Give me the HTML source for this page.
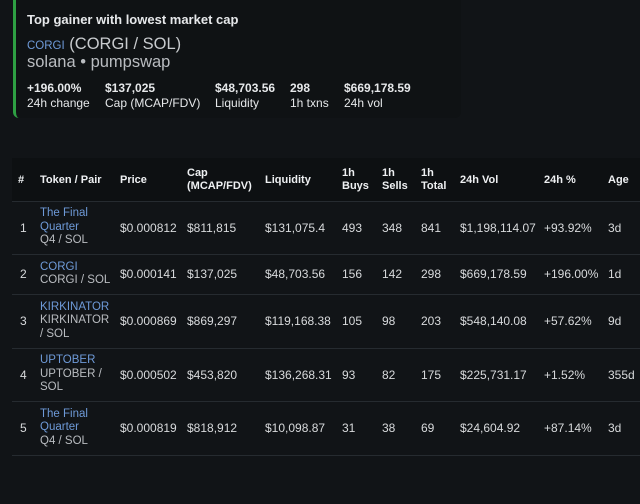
<!DOCTYPE html>
<html><head><meta charset="utf-8"><style>
body{margin:0;width:640px;height:504px;background:#111417;font-family:"Liberation Sans",sans-serif;color:#e6e8ea;position:relative;overflow:hidden}
.a{position:absolute;white-space:nowrap}
.card{position:absolute;left:13px;top:-6px;width:445px;height:124px;background:#0f1214;border-left:3px solid #2ea043;border-radius:6px}
.hdr{position:absolute;left:12px;top:158px;width:628px;height:43px;background:#0d1012}
.line{position:absolute;left:12px;width:628px;height:1px;background:#262b30}
.th{font-weight:bold;font-size:11px;color:#eef0f2;line-height:13px}
.td{font-size:12px;color:#d8dadc}
.lnk{color:#6e9ad8}
.sub{color:#b9bcc0}
.st{font-size:12px}
</style></head><body>
<div class="card"></div>
<div class="a" style="left:27px;top:12px;font-size:13px;font-weight:bold">Top gainer with lowest market cap</div>
<div class="a" style="left:27px;top:35px;font-size:16.5px;color:#c8cbce"><span class="lnk" style="font-size:11.5px">CORGI</span> (CORGI / SOL)</div>
<div class="a" style="left:27px;top:53px;font-size:16.5px;color:#b9bcc0">solana • pumpswap</div>
<div>
<div class="a st" style="left:27px;top:81px;font-weight:bold">+196.00%</div><div class="a st" style="left:27px;top:96px">24h change</div>
<div class="a st" style="left:105px;top:81px;font-weight:bold">$137,025</div><div class="a st" style="left:105px;top:96px">Cap (MCAP/FDV)</div>
<div class="a st" style="left:215px;top:81px;font-weight:bold">$48,703.56</div><div class="a st" style="left:215px;top:96px">Liquidity</div>
<div class="a st" style="left:290px;top:81px;font-weight:bold">298</div><div class="a st" style="left:290px;top:96px">1h txns</div>
<div class="a st" style="left:344px;top:81px;font-weight:bold">$669,178.59</div><div class="a st" style="left:344px;top:96px">24h vol</div>
</div>
<div class="hdr"></div>
<div id="t"></div>
<script>
const cols=[18,40,120,187,265,342,382,421,460,544,608];
const heads=[["#"],["Token / Pair"],["Price"],["Cap","(MCAP/FDV)"],["Liquidity"],["1h","Buys"],["1h","Sells"],["1h","Total"],["24h Vol"],["24h %"],["Age"]];
const names=[["The Final","Quarter"],["CORGI"],["KIRKINATOR"],["UPTOBER"],["The Final","Quarter"]];
const pairs=[["Q4 / SOL"],["CORGI / SOL"],["KIRKINATOR","/ SOL"],["UPTOBER /","SOL"],["Q4 / SOL"]];
const prices=["$0.000812","$0.000141","$0.000869","$0.000502","$0.000819"];
const caps=["$811,815","$137,025","$869,297","$453,820","$818,912"];
const liqs=["$131,075.4","$48,703.56","$119,168.38","$136,268.31","$10,098.87"];
const buys=["493","156","105","93","31"];
const sells=["348","142","98","82","38"];
const totals=["841","298","203","175","69"];
const vols=["$1,198,114.07","$669,178.59","$548,140.08","$225,731.17","$24,604.92"];
const pcts=["+93.92%","+196.00%","+57.62%","+1.52%","+87.14%"];
const ages=["3d","1d","9d","355d","3d"];
const rowTop=[201,254,294,348,401,455];
const t=document.getElementById('t');
function add(html,x,y,cls){const d=document.createElement('div');d.className='a '+cls;d.style.left=x+'px';d.style.top=y+'px';d.innerHTML=html;


t.appendChild(d);return d;}
heads.forEach((h,i)=>{const y=h.length>1?167:174;add(h.join('<br>'),cols[i],y,'th');});
for(let r=0;r<5;r++){
 const l=document.createElement('div');l.className='line';l.style.top=rowTop[r]+'px';
 
 
 t.appendChild(l);
 const mid=(rowTop[r]+rowTop[r+1])/2;
 const y=mid-7;
 add(String(r+1),cols[0]+2,y,'td');
 const nl=names[r].length+pairs[r].length;
 const tok=add('<span class="lnk">'+names[r].join('<br>')+'</span><br><span class="sub">'+pairs[r].join('<br>')+'</span>',cols[1],mid-nl*13.5/2,'td');
 tok.style.lineHeight='13.5px';
 tok.style.fontSize='11.5px';
 
 
 [prices,caps,liqs,buys,sells,totals,vols,pcts,ages].forEach((arr,i)=>add(arr[r],cols[i+2],y,'td'));
}
const l=document.createElement('div');l.className='line';l.style.top='455px';


t.appendChild(l);
</script>
</body></html>
